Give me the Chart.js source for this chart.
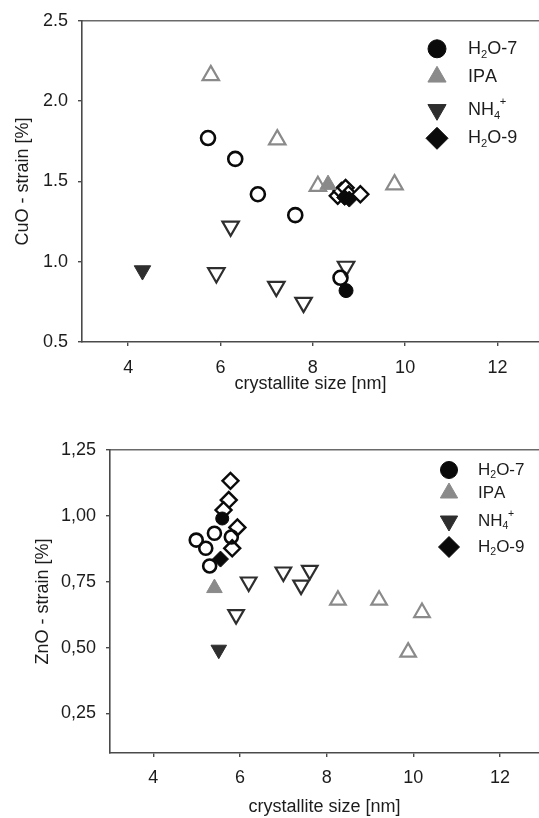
<!DOCTYPE html>
<html><head><meta charset="utf-8">
<script src="https://cdn.jsdelivr.net/npm/chart.js@4.4.1/dist/chart.umd.min.js"></script>
<style>
html,body{margin:0;padding:0;background:#fff;width:539px;height:818px;overflow:hidden}
#c1{position:absolute;left:0;top:0}
#c2{position:absolute;left:0;top:400px}
</style></head>
<body>
<canvas id="c1" width="539" height="400"></canvas>
<canvas id="c2" width="539" height="418"></canvas>
<script>
// ---------- tick labels / categories ----------
const xTicks = [4, 6, 8, 10, 12];
const cuoYTicks = [0.5, 1.0, 1.5, 2.0, 2.5];
const znoYTicks = [0.25, 0.50, 0.75, 1.00, 1.25];
const seriesNames = ['H₂O-7', 'IPA', 'NH₄⁺', 'H₂O-9'];
const xTitle = 'crystallite size [nm]';
const cuoYTitle = 'CuO - strain [%]';
const znoYTitle = 'ZnO - strain [%]';

// ---------- CuO values ----------
const cuoH2O7FilledX = [8.72];  const cuoH2O7FilledY = [0.82];
const cuoH2O7OpenX = [5.73, 6.32, 6.81, 7.62, 8.60];
const cuoH2O7OpenY = [1.77, 1.64, 1.42, 1.29, 0.90];
const cuoIPAFilledX = [8.33];   const cuoIPAFilledY = [1.48];
const cuoIPAOpenX = [5.79, 7.23, 8.11, 9.77];
const cuoIPAOpenY = [2.16, 1.76, 1.47, 1.48];
const cuoNH4FilledX = [4.31];   const cuoNH4FilledY = [0.945];
const cuoNH4OpenX = [6.22, 5.91, 7.21, 7.80, 8.72];
const cuoNH4OpenY = [1.22, 0.93, 0.845, 0.745, 0.97];
const cuoH2O9FilledX = [8.69, 8.79]; const cuoH2O9FilledY = [1.40, 1.39];
const cuoH2O9OpenX = [8.54, 8.62, 8.71, 8.77, 9.03];
const cuoH2O9OpenY = [1.41, 1.44, 1.46, 1.42, 1.42];

// ---------- ZnO values ----------
const znoH2O7FilledX = [5.59];  const znoH2O7FilledY = [0.99];
const znoH2O7OpenX = [4.99, 5.21, 5.41, 5.30, 5.80];
const znoH2O7OpenY = [0.908, 0.877, 0.934, 0.81, 0.92];
const znoIPAFilledX = [5.41];   const znoIPAFilledY = [0.726];
const znoIPAOpenX = [8.26, 9.21, 10.2, 9.88];
const znoIPAOpenY = [0.68, 0.68, 0.633, 0.483];
const znoNH4FilledX = [5.51];   const znoNH4FilledY = [0.492];
const znoNH4OpenX = [6.2, 7.0, 7.61, 7.41, 5.91];
const znoNH4OpenY = [0.749, 0.787, 0.793, 0.737, 0.625];
const znoH2O9FilledX = [5.55];  const znoH2O9FilledY = [0.836];
const znoH2O9OpenX = [5.78, 5.74, 5.62, 5.94, 5.82];
const znoH2O9OpenY = [1.133, 1.06, 1.022, 0.956, 0.877];

// ---------- styling ----------
const FONT = "'Liberation Sans', Arial, Helvetica, sans-serif";
const TEXT = '#1c1c1c';
const AXIS = '#4a4a4a';
const BLACK = '#0a0a0a';
const GRAY = '#8a8a8a';
const DARK = '#2e2e2e';

const zip = (xs, ys) => xs.map((x, i) => ({x, y: ys[i]}));

function makeDatasets(d, sz) {
  const base = {showLine: false};
  return [
    {...base, label: seriesNames[0], data: zip(d.h7fx, d.h7fy), pointStyle: 'circle', pointRadius: sz.circle, pointBackgroundColor: BLACK, pointBorderColor: BLACK, pointBorderWidth: 1},
    {...base, label: seriesNames[3], data: zip(d.h9fx, d.h9fy), pointStyle: 'rectRot', pointRadius: sz.diamond, pointBackgroundColor: BLACK, pointBorderColor: BLACK, pointBorderWidth: 1},
    {...base, label: seriesNames[1], data: zip(d.ipfx, d.ipfy), pointStyle: 'triangle', pointRadius: sz.tri, pointBackgroundColor: GRAY, pointBorderColor: GRAY, pointBorderWidth: 1},
    {...base, label: seriesNames[2], data: zip(d.nhfx, d.nhfy), pointStyle: 'triangle', pointRotation: 180, pointRadius: sz.tri, pointBackgroundColor: DARK, pointBorderColor: DARK, pointBorderWidth: 1},
    {...base, label: seriesNames[0] + ' open', data: zip(d.h7ox, d.h7oy), pointStyle: 'circle', pointRadius: sz.circle, pointBackgroundColor: 'rgba(255,255,255,0)', pointBorderColor: BLACK, pointBorderWidth: 2.6},
    {...base, label: seriesNames[3] + ' open', data: zip(d.h9ox, d.h9oy), pointStyle: 'rectRot', pointRadius: sz.diamond, pointBackgroundColor: '#ffffff', pointBorderColor: BLACK, pointBorderWidth: 2.4},
    {...base, label: seriesNames[1] + ' open', data: zip(d.ipox, d.ipoy), pointStyle: 'triangle', pointRadius: sz.tri, pointBackgroundColor: 'rgba(255,255,255,0)', pointBorderColor: GRAY, pointBorderWidth: 2.2},
    {...base, label: seriesNames[2] + ' open', data: zip(d.nhox, d.nhoy), pointStyle: 'triangle', pointRotation: 180, pointRadius: sz.tri, pointBackgroundColor: 'rgba(255,255,255,0)', pointBorderColor: DARK, pointBorderWidth: 2.2}
  ];
}

// draw text with unicode sub/superscript digits as smaller, shifted glyphs
const SUB = {'₀':'0','₁':'1','₂':'2','₃':'3','₄':'4','₅':'5','₆':'6','₇':'7','₈':'8','₉':'9'};
const SUP = {'⁺':'+','⁻':'-','⁰':'0','¹':'1','²':'2','³':'3'};
function drawRich(ctx, str, x, y, size) {
  let cx = x;
  for (const ch of str) {
    let t = ch, s = size, dy = 0;
    if (SUB[ch]) { t = SUB[ch]; s = size * 0.62; dy = size * 0.32; }
    else if (SUP[ch]) { t = SUP[ch]; s = size * 0.62; dy = -size * 0.42; cx -= size * 0.02; }
    ctx.font = s + 'px ' + FONT;
    ctx.fillText(t, cx, y + dy);
    cx += ctx.measureText(t).width;
  }
}

const legendPlugin = {
  id: 'innerLegend',
  afterDraw(chart, args, opts) {
    const {ctx, chartArea} = chart;
    ctx.save();
    ctx.textBaseline = 'middle';
    ctx.textAlign = 'left';
    const order = [0, 2, 3, 1]; // H2O-7, IPA, NH4+, H2O-9 (dataset indices)
    order.forEach((di, row) => {
      const ds = chart.data.datasets[di];
      const mx = chartArea.left + opts.markerX;
      const my = chartArea.top + opts.rows[row];
      const r = opts.radii[row];
      ctx.fillStyle = ds.pointBackgroundColor;
      ctx.strokeStyle = ds.pointBorderColor;
      ctx.lineWidth = 1;
      Chart.helpers.drawPoint(ctx, {pointStyle: ds.pointStyle, radius: r, rotation: ds.pointRotation || 0, borderWidth: 1}, mx, my);
      ctx.fillStyle = TEXT;
      drawRich(ctx, ds.label, chartArea.left + opts.textX, my, opts.fontSize);
    });
    ctx.restore();
  }
};

function makeChart(id, cfg) {
  const tickGrid = {display: true, drawOnChartArea: false, drawTicks: true, tickLength: 4, color: AXIS, lineWidth: 1.4};
  const border = {display: true, color: AXIS, width: 1.6};
  const noPad = s => { s.paddingLeft = 0; s.paddingRight = 0; };
  return new Chart(document.getElementById(id), {
    type: 'scatter',
    data: {datasets: makeDatasets(cfg.data, cfg.sizes)},
    plugins: [legendPlugin],
    options: {
      responsive: false,
      animation: false,
      events: [],
      layout: {padding: {top: cfg.padTop, left: 0, right: 0, bottom: 0}, autoPadding: false},
      plugins: {
        legend: {display: false},
        tooltip: {enabled: false},
        innerLegend: cfg.legend
      },
      scales: {
        x: {
          type: 'linear', position: 'bottom', min: 3, max: 12.9,
          afterBuildTicks: s => { s.ticks = xTicks.map(v => ({value: v})); },
          afterFit: s => { s.height = cfg.xHeight; noPad(s); },
          grid: tickGrid, border: border,
          ticks: {color: TEXT, padding: cfg.xTickPad, font: {family: FONT, size: cfg.tickSize}, callback: v => String(v)},
          title: {display: true, text: xTitle, color: TEXT, font: {family: FONT, size: 18}, padding: {top: 0, bottom: cfg.xTitlePad}}
        },
        xTop: {
          type: 'linear', position: 'top', min: 3, max: 12.9,
          afterBuildTicks: s => { s.ticks = xTicks.map(v => ({value: v})); },
          afterFit: s => { s.height = 0; noPad(s); },
          grid: {display: false, drawTicks: false},
          border: {display: true, color: '#6a6a6a', width: 1.6},
          ticks: {display: false}
        },
        y: {
          type: 'linear', position: 'left', min: cfg.yMin, max: cfg.yMax,
          afterBuildTicks: s => { s.ticks = cfg.yTicks.map(v => ({value: v})); },
          afterFit: s => { s.width = cfg.yWidth; },
          grid: tickGrid, border: border,
          ticks: {color: TEXT, padding: 10, font: {family: FONT, size: cfg.tickSize}, callback: cfg.yFmt},
          title: {display: true, text: cfg.yTitle, color: TEXT, font: {family: FONT, size: 18}, padding: {top: cfg.yTitlePad, bottom: 0}}
        }
      }
    }
  });
}

makeChart('c1', {
  data: {
    h7fx: cuoH2O7FilledX, h7fy: cuoH2O7FilledY, h7ox: cuoH2O7OpenX, h7oy: cuoH2O7OpenY,
    ipfx: cuoIPAFilledX, ipfy: cuoIPAFilledY, ipox: cuoIPAOpenX, ipoy: cuoIPAOpenY,
    nhfx: cuoNH4FilledX, nhfy: cuoNH4FilledY, nhox: cuoNH4OpenX, nhoy: cuoNH4OpenY,
    h9fx: cuoH2O9FilledX, h9fy: cuoH2O9FilledY, h9ox: cuoH2O9OpenX, h9oy: cuoH2O9OpenY
  },
  sizes: {circle: 7, diamond: 8, tri: 9.5},
  padTop: 19, xHeight: 58, yWidth: 82, yMin: 0.5, yMax: 2.5, yTicks: cuoYTicks,
  yFmt: v => v.toFixed(1), yTitle: cuoYTitle, yTitlePad: 12, xTickPad: 11, xTitlePad: 5, tickSize: 18,
  legend: {markerX: 355, textX: 386, rows: [28, 56, 89, 117.5], radii: [9, 10.5, 10.5, 11], fontSize: 18}
});

makeChart('c2', {
  data: {
    h7fx: znoH2O7FilledX, h7fy: znoH2O7FilledY, h7ox: znoH2O7OpenX, h7oy: znoH2O7OpenY,
    ipfx: znoIPAFilledX, ipfy: znoIPAFilledY, ipox: znoIPAOpenX, ipoy: znoIPAOpenY,
    nhfx: znoNH4FilledX, nhfy: znoNH4FilledY, nhox: znoNH4OpenX, nhoy: znoNH4OpenY,
    h9fx: znoH2O9FilledX, h9fy: znoH2O9FilledY, h9ox: znoH2O9OpenX, h9oy: znoH2O9OpenY
  },
  sizes: {circle: 6.5, diamond: 8, tri: 9},
  padTop: 50, xHeight: 65, yWidth: 110, yMin: 0.1, yMax: 1.25, yTicks: znoYTicks,
  yFmt: v => v.toFixed(2).replace('.', ','), yTitle: znoYTitle, yTitlePad: 32, xTickPad: 10, xTitlePad: 0, tickSize: 18,
  legend: {markerX: 339, textX: 368, rows: [20, 43, 71, 97], radii: [8.5, 10, 10, 10.5], fontSize: 17}
});
</script>
</body></html>
